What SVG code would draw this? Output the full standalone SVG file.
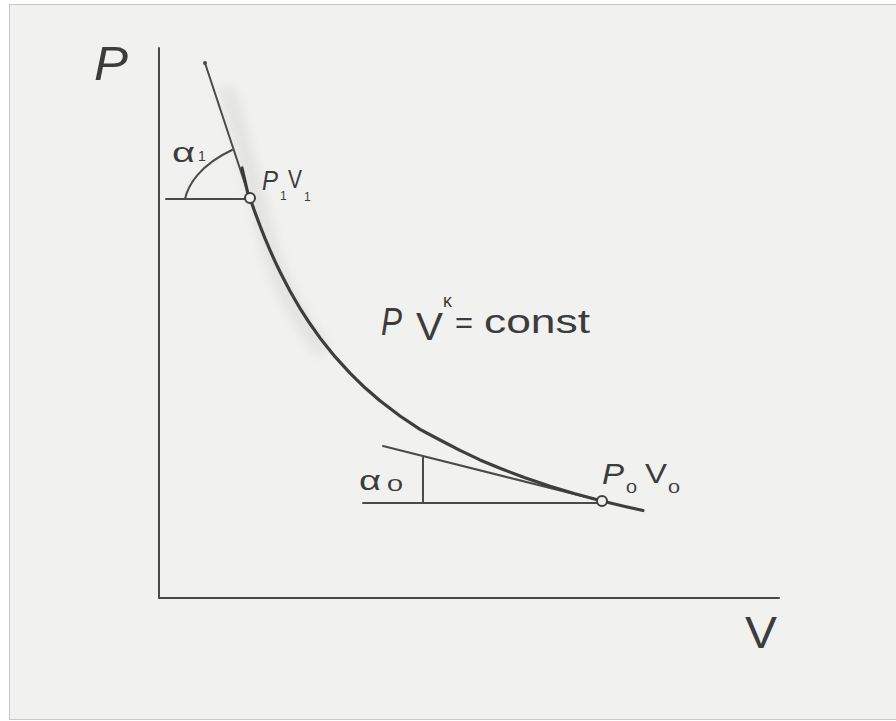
<svg xmlns="http://www.w3.org/2000/svg" width="896" height="721" viewBox="0 0 896 721">
  <defs>
    <filter id="blur" x="-50%" y="-50%" width="200%" height="200%">
      <feGaussianBlur stdDeviation="6"/>
    </filter>
    <style>
      .ln { stroke: #4a4a4a; stroke-width: 2; fill: none; stroke-linecap: round; }
      .curve { stroke: #3e3e3e; stroke-width: 3.2; fill: none; stroke-linecap: round; stroke-linejoin: round; }
      .pt { fill: #f1f1ef; stroke: #3e3e3e; stroke-width: 2; }
      .hw { font-family: "Liberation Sans", "DejaVu Sans", sans-serif; fill: #3c3c3c; }
    </style>
  </defs>

  <rect x="0" y="0" width="896" height="721" fill="#ffffff"/>
  <rect x="9.5" y="4.5" width="890" height="715" fill="#f1f1ef" stroke="#c8c8c8" stroke-width="1"/>

  <!-- faint pencil smudge along the upper curve -->
  <path d="M226,88 C243,140 256,196 270,248 C282,290 300,322 324,352" stroke="#d6d6d4" stroke-width="16" fill="none" opacity="0.55" filter="url(#blur)"/>

  <g id="axes">
    <line class="ln" x1="159" y1="48" x2="159" y2="598"/>
    <line class="ln" x1="159" y1="598" x2="779" y2="598"/>
  </g>

  <g id="connectors">
    <!-- tangent at P1V1 -->
    <line class="ln" x1="205" y1="63" x2="249" y2="196"/>
    <circle cx="205" cy="63" r="2" fill="#4a4a4a"/>
    <line x1="242" y1="168" x2="248" y2="194" stroke="#3a3a3a" stroke-width="3.2" stroke-linecap="round"/>
    <line class="ln" x1="166" y1="199" x2="245" y2="199"/>
    <path class="ln" d="M185,199 C188,185 200,165 232,150"/>
    <!-- tangent at P0V0 -->
    <line class="ln" x1="383" y1="446" x2="598" y2="500"/>
    <line class="ln" x1="423" y1="457" x2="423" y2="502"/>
    <line class="ln" x1="363" y1="503" x2="597" y2="503"/>
    <!-- adiabat curve -->
    <path class="curve" d="M250,198 L255,212.4 L260,225.8 L265,238.4 L270,250.2 L275,261.3 L280,271.8 L285,281.6 L290,291 L295,299.8 L300,308.3 L310,323.8 L320,337.9 L335,356.7 L350,373.2 L365,387.8 L380,400.8 L400,416 L420,429.3 L440,440 L460,450.4 L480,459.9 L500,468.3 L525,477.8 L550,486.3 L575,493.8 L602,501 L625,506.5 L643,510.5"/>
  </g>

  <g id="point-p1v1">
    <circle class="pt" cx="250" cy="198" r="5"/>
  </g>
  <g id="point-p0v0">
    <circle class="pt" cx="602" cy="501" r="5"/>
  </g>

  <g id="labels">
    <text class="hw" x="94" y="80" font-size="48" font-style="italic" textLength="34" lengthAdjust="spacingAndGlyphs">P</text>
    <text class="hw" x="745" y="648" font-size="44" textLength="32" lengthAdjust="spacingAndGlyphs">V</text>

    <text class="hw" x="172" y="162" font-size="27" textLength="23" lengthAdjust="spacingAndGlyphs">α</text>
    <text class="hw" x="198" y="161" font-size="14">1</text>

    <text class="hw" x="262" y="190" font-size="28" font-style="italic" textLength="16" lengthAdjust="spacingAndGlyphs">P</text>
    <text class="hw" x="280" y="200" font-size="12">1</text>
    <text class="hw" x="288" y="188" font-size="25" textLength="14" lengthAdjust="spacingAndGlyphs">V</text>
    <text class="hw" x="304" y="201" font-size="12">1</text>

    <text class="hw" x="381" y="335" font-size="38" font-style="italic" textLength="21" lengthAdjust="spacingAndGlyphs">P</text>
    <text class="hw" x="416" y="340" font-size="38" textLength="27" lengthAdjust="spacingAndGlyphs">V</text>
    <text class="hw" x="443" y="307" font-size="18">κ</text>
    <text class="hw" x="455" y="333" font-size="30" textLength="18" lengthAdjust="spacingAndGlyphs">=</text>
    <text class="hw" x="484" y="333" font-size="34" textLength="106" lengthAdjust="spacingAndGlyphs">const</text>

    <text class="hw" x="359" y="490" font-size="27" textLength="22" lengthAdjust="spacingAndGlyphs">α</text>
    <text class="hw" x="387" y="491" font-size="16" textLength="16" lengthAdjust="spacingAndGlyphs">0</text>

    <text class="hw" x="602" y="484" font-size="30" font-style="italic" textLength="22" lengthAdjust="spacingAndGlyphs">P</text>
    <text class="hw" x="626" y="493" font-size="15" textLength="11" lengthAdjust="spacingAndGlyphs">0</text>
    <text class="hw" x="645" y="483" font-size="28" textLength="22" lengthAdjust="spacingAndGlyphs">V</text>
    <text class="hw" x="668" y="493" font-size="15" textLength="12" lengthAdjust="spacingAndGlyphs">0</text>
  </g>
</svg>
